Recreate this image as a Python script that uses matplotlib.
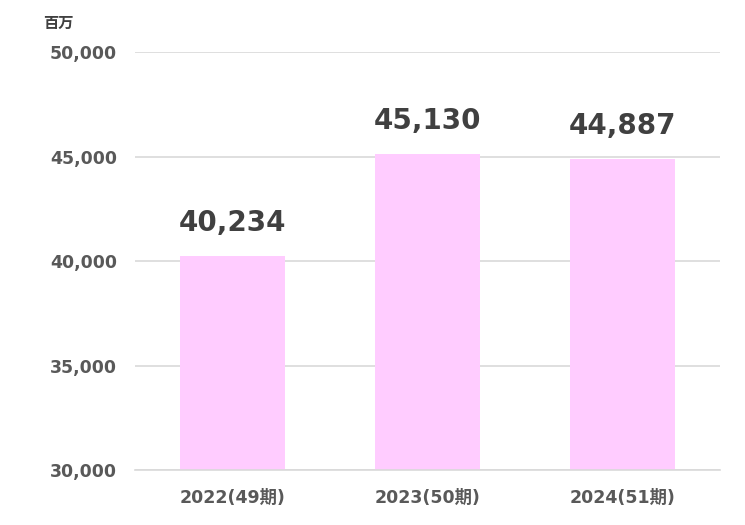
import matplotlib
matplotlib.use("Agg")
import matplotlib.pyplot as plt
from matplotlib.ticker import FuncFormatter

plt.rcParams['font.family'] = ['DejaVu Sans', 'Noto Sans CJK JP']

categories = ["2022(49期)", "2023(50期)", "2024(51期)"]
values = [40234, 45130, 44887]
y_ticks = [30000, 35000, 40000, 45000, 50000]
unit_label = "百万"

fig = plt.figure(figsize=(7.45, 5.25), dpi=100)
ax = fig.add_axes([0.181, 0.1048, 0.785, 0.796])

x = list(range(len(categories)))
ax.bar(x, values, width=0.54, color="#FFCCFF", zorder=2)
for xi, v in zip(x, values):
    ax.text(xi, v + 900, f"{v:,}", ha="center", va="bottom",
            fontsize=20, fontweight="bold", color="#404040")

ax.set_xlim(-0.5, 2.5)
ax.set_ylim(30000, 50000)
ax.set_yticks(y_ticks)
ax.yaxis.set_major_formatter(FuncFormatter(lambda v, p: f"{int(v):,}"))
ax.set_xticks(x)
ax.set_xticklabels(categories)
ax.grid(axis="y", color="#D9D9D9", linewidth=1.2, zorder=0)
for s in ["top", "right", "left"]:
    ax.spines[s].set_visible(False)
ax.spines["bottom"].set_color("#D9D9D9")
ax.spines["bottom"].set_linewidth(1.2)
ax.tick_params(axis="both", length=0, labelsize=12.5, colors="#595959")
ax.tick_params(axis="y", pad=13)
ax.tick_params(axis="x", pad=14)
for lab in ax.get_xticklabels() + ax.get_yticklabels():
    lab.set_fontweight("bold")

fig.text(43 / 745, 1 - 23 / 525, unit_label, ha="left", va="center",
         fontsize=11, fontweight="bold", color="#404040")

fig.savefig("out.png", dpi=100, facecolor="white")
